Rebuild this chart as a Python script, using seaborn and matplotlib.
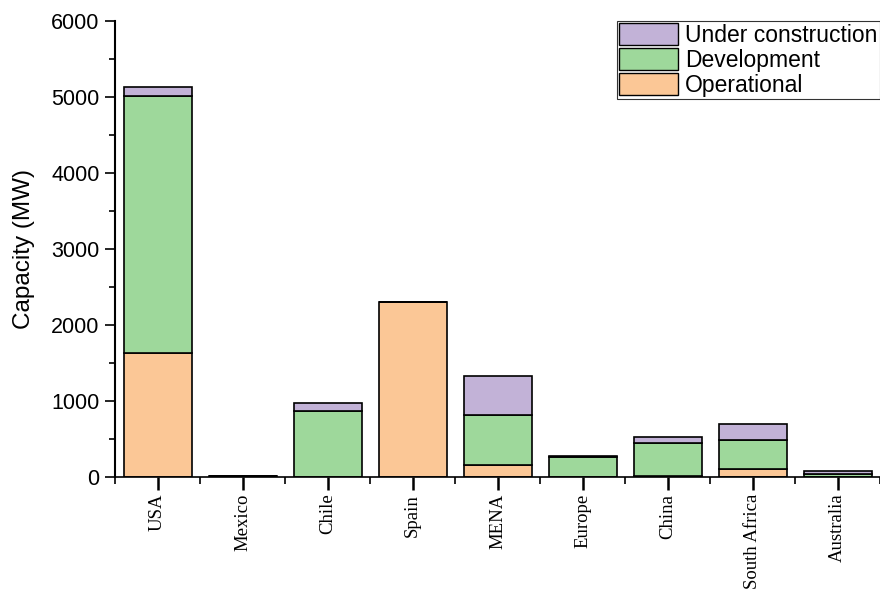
import matplotlib
matplotlib.use("Agg")
import matplotlib.pyplot as plt
from matplotlib.ticker import MultipleLocator
from matplotlib.patches import Patch
import seaborn as sns
import numpy as np
import pandas as pd

countries = ["USA", "Mexico", "Chile", "Spain", "MENA", "Europe", "China", "South Africa", "Australia"]
operational = [1630, 10, 0, 2300, 155, 0, 10, 100, 5]
development = [3380, 0, 870, 0, 660, 265, 435, 385, 30]
under_construction = [120, 0, 105, 0, 510, 10, 85, 215, 40]

col_op = "#FBC796"
col_dev = "#9ED89B"
col_uc = "#C2B2D7"

sns.set_theme(style="ticks")
plt.rcParams['font.family'] = ['Liberation Sans', 'DejaVu Sans']
plt.rcParams['text.color'] = 'black'
plt.rcParams['axes.labelcolor'] = 'black'
plt.rcParams['xtick.color'] = 'black'
plt.rcParams['ytick.color'] = 'black'
plt.rcParams['axes.edgecolor'] = 'black'

df = pd.DataFrame({"country": countries, "op": operational, "dev": development, "uc": under_construction})
df["dev_bottom"] = df["op"]
df["uc_bottom"] = df["op"] + df["dev"]

fig = plt.figure(figsize=(8.8, 5.94), dpi=100)
ax = fig.add_axes([115/880, 1-477/594, 765/880, 456/594])

sns.barplot(data=df, x="country", y="op", color=col_op, edgecolor="black", linewidth=1.2, width=0.8, ax=ax, saturation=1)
sns.barplot(data=df, x="country", y="dev", bottom=df["dev_bottom"], color=col_dev, edgecolor="black", linewidth=1.2, width=0.8, ax=ax, saturation=1)
sns.barplot(data=df, x="country", y="uc", bottom=df["uc_bottom"], color=col_uc, edgecolor="black", linewidth=1.2, width=0.8, ax=ax, saturation=1)

ax.set_xlim(-0.5, 8.5)
ax.set_ylim(0, 6000)
ax.yaxis.set_major_locator(MultipleLocator(1000))
ax.yaxis.set_minor_locator(MultipleLocator(500))
ax.xaxis.set_minor_locator(MultipleLocator(1, offset=0.5))
ax.set_xlabel("")
ax.set_ylabel("Capacity (MW)", fontsize=17.5, labelpad=12)
ax.tick_params(axis="y", which="major", length=7, width=1.2, labelsize=15.5, pad=4)
ax.tick_params(axis="y", which="minor", length=4, width=1.2)
ax.tick_params(axis="x", which="major", length=9, width=1.8, pad=3)
ax.tick_params(axis="x", which="minor", length=5, width=1.2)
for lab in ax.get_xticklabels():
    lab.set_rotation(90)
    lab.set_fontfamily(['Liberation Serif', 'DejaVu Serif'])
    lab.set_fontsize(13.5)
sns.despine(ax=ax, top=True, right=True)
ax.spines["left"].set_linewidth(1.5)
ax.spines["bottom"].set_linewidth(1.2)

handles = [Patch(facecolor=col_uc, edgecolor="black", label="Under construction"),
           Patch(facecolor=col_dev, edgecolor="black", label="Development"),
           Patch(facecolor=col_op, edgecolor="black", label="Operational")]
leg = ax.legend(handles=handles, loc="upper right", bbox_to_anchor=(1.0, 1.0), fontsize=16.5,
                frameon=True, fancybox=False, edgecolor="black", handlelength=2.6, handleheight=1.1,
                handletextpad=0.3, borderpad=0.1, labelspacing=0.05, borderaxespad=0.0)
leg.get_frame().set_linewidth(0.8)

fig.savefig("out.png", dpi=100)
